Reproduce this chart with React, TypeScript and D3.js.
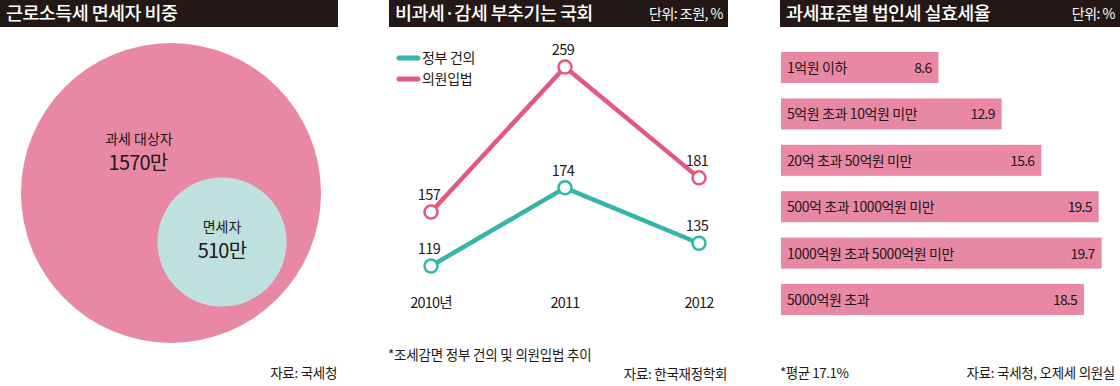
import React from 'react';
import { scaleLinear, scalePoint, scalePow, line } from 'd3';

// panel 1: 근로소득세 면세자 비중
const circleLabels = ['과세 대상자', '면세자'];
const circleValues = [1570, 510];

// panel 2: 비과세·감세 부추기는 국회
const years = ['2010년', '2011', '2012'];
const seriesNames = ['정부 건의', '의원입법'];
const govValues = [119, 174, 135];
const lawValues = [157, 259, 181];

// panel 3: 과세표준별 법인세 실효세율
const brackets = [
  '1억원 이하',
  '5억원 초과 10억원 미만',
  '20억 초과 50억원 미만',
  '500억 초과 1000억원 미만',
  '1000억원 초과 5000억원 미만',
  '5000억원 초과',
];
const rates = [8.6, 12.9, 15.6, 19.5, 19.7, 18.5];

const DARK = '#231815';
const PINK = '#E888A4';
const PINK_LINE = '#E4587E';
const TEAL = '#35B5A7';
const TEAL_LIGHT = '#BEE0DF';
const FONT = '"Noto Sans CJK KR", "Noto Sans", sans-serif';

function Header({ x, w, title, unit }: { x: number; w: number; title: string; unit?: string }) {
  return (
    <g>
      <rect x={x} y={0} width={w} height={27} fill={DARK} />
      <text x={x + 6} y={20} fill="#fff" fontSize={18.5} fontWeight={500} letterSpacing={-0.6}>
        {title}
      </text>
      {unit && (
        <text x={x + w - 5} y={19} fill="#fff" fontSize={14} textAnchor="end" letterSpacing={-0.5}>
          {unit}
        </text>
      )}
    </g>
  );
}

export default function App() {
  // circles
  const r = scalePow().exponent(0.75).domain([0, circleValues[0]]).range([0, 150]);
  const bigR = r(circleValues[0]);
  const smallR = r(circleValues[1]);
  const bx = 171, by = 193;
  const sx = 222, sy = 242;

  // line chart
  const x = scalePoint<string>().domain(years).range([431, 699]);
  const y = scaleLinear().domain([119, 259]).range([266, 67]);
  const mk = line<number>()
    .x((_, i) => x(years[i]) as number)
    .y((d) => y(d));
  const series = [
    { name: seriesNames[0], values: govValues, color: TEAL },
    { name: seriesNames[1], values: lawValues, color: PINK_LINE },
  ];

  // bars
  const bw = scaleLinear().domain([0, 20]).range([31, 325]);
  const barTops = scalePoint<string>().domain(brackets).range([52, 284]);

  return (
    <svg width={1120} height={386} style={{ position: 'absolute', left: 0, top: 0 }} fontFamily={FONT}>
      <rect width={1120} height={386} fill="#fff" />

      {/* panel 1 */}
      <Header x={0} w={338} title="근로소득세 면세자 비중" />
      <circle cx={bx} cy={by} r={bigR} fill={PINK} />
      <circle cx={sx} cy={sy} r={smallR} fill={TEAL_LIGHT} />
      <text x={139} y={144} fontSize={14} textAnchor="middle" fill={DARK}>
        {circleLabels[0]}
      </text>
      <text x={138} y={170} fontSize={20} textAnchor="middle" fill={DARK} letterSpacing={-0.8}>
        {circleValues[0]}만
      </text>
      <text x={sx} y={232} fontSize={14} textAnchor="middle" fill={DARK}>
        {circleLabels[1]}
      </text>
      <text x={sx} y={258} fontSize={20} textAnchor="middle" fill={DARK} letterSpacing={-0.8}>
        {circleValues[1]}만
      </text>
      <text x={337} y={378} fontSize={13.5} textAnchor="end" fill={DARK} letterSpacing={-0.3}>
        자료: 국세청
      </text>

      {/* panel 2 */}
      <Header x={389} w={339} title="비과세·감세 부추기는 국회" unit="단위: 조원, %" />
      {series.map((s, i) => (
        <g key={s.name}>
          <line x1={399} x2={418} y1={58 + i * 21} y2={58 + i * 21} stroke={s.color} strokeWidth={5} strokeLinecap="round" />
          <text x={422} y={63 + i * 21} fontSize={14} fill={DARK} letterSpacing={-0.3}>
            {s.name}
          </text>
        </g>
      ))}
      {series.map((s) => (
        <g key={s.name + 'l'}>
          <path d={mk(s.values) || ''} fill="none" stroke={s.color} strokeWidth={4.5} strokeLinejoin="round" />
          {s.values.map((v, i) => (
            <g key={i}>
              <circle cx={x(years[i])} cy={y(v)} r={6.5} fill="#fff" stroke={s.color} strokeWidth={2.5} />
              <text x={(x(years[i]) as number) - 2} y={y(v) - 12} fontSize={14.5} textAnchor="middle" fill={DARK} letterSpacing={-0.6}>
                {v}
              </text>
            </g>
          ))}
        </g>
      ))}
      {years.map((yr) => (
        <text key={yr} x={x(yr)} y={308} fontSize={14.5} textAnchor="middle" fill={DARK} letterSpacing={-0.8}>
          {yr}
        </text>
      ))}
      <text x={388} y={360} fontSize={13.5} fill={DARK} letterSpacing={-0.2}>
        *조세감면 정부 건의 및 의원입법 추이
      </text>
      <text x={727} y={379} fontSize={13.5} textAnchor="end" fill={DARK} letterSpacing={-0.3}>
        자료: 한국재정학회
      </text>

      {/* panel 3 */}
      <Header x={780} w={340} title="과세표준별 법인세 실효세율" unit="단위: %" />
      {brackets.map((b, i) => {
        const top = barTops(b) as number;
        const w = bw(rates[i]);
        return (
          <g key={b}>
            <rect x={781} y={top} width={w} height={31} fill={PINK} />
            <text x={787} y={top + 21} fontSize={14} fill={DARK} letterSpacing={-0.4}>
              {b}
            </text>
            <text x={781 + w - 7} y={top + 21} fontSize={14} textAnchor="end" fill={DARK} letterSpacing={-0.8}>
              {rates[i].toFixed(1)}
            </text>
          </g>
        );
      })}
      <text x={780} y={378} fontSize={13.5} fill={DARK} letterSpacing={-0.5}>
        *평균 17.1%
      </text>
      <text x={1115} y={378} fontSize={13.5} textAnchor="end" fill={DARK} letterSpacing={-0.3}>
        자료: 국세청, 오제세 의원실
      </text>
    </svg>
  );
}
